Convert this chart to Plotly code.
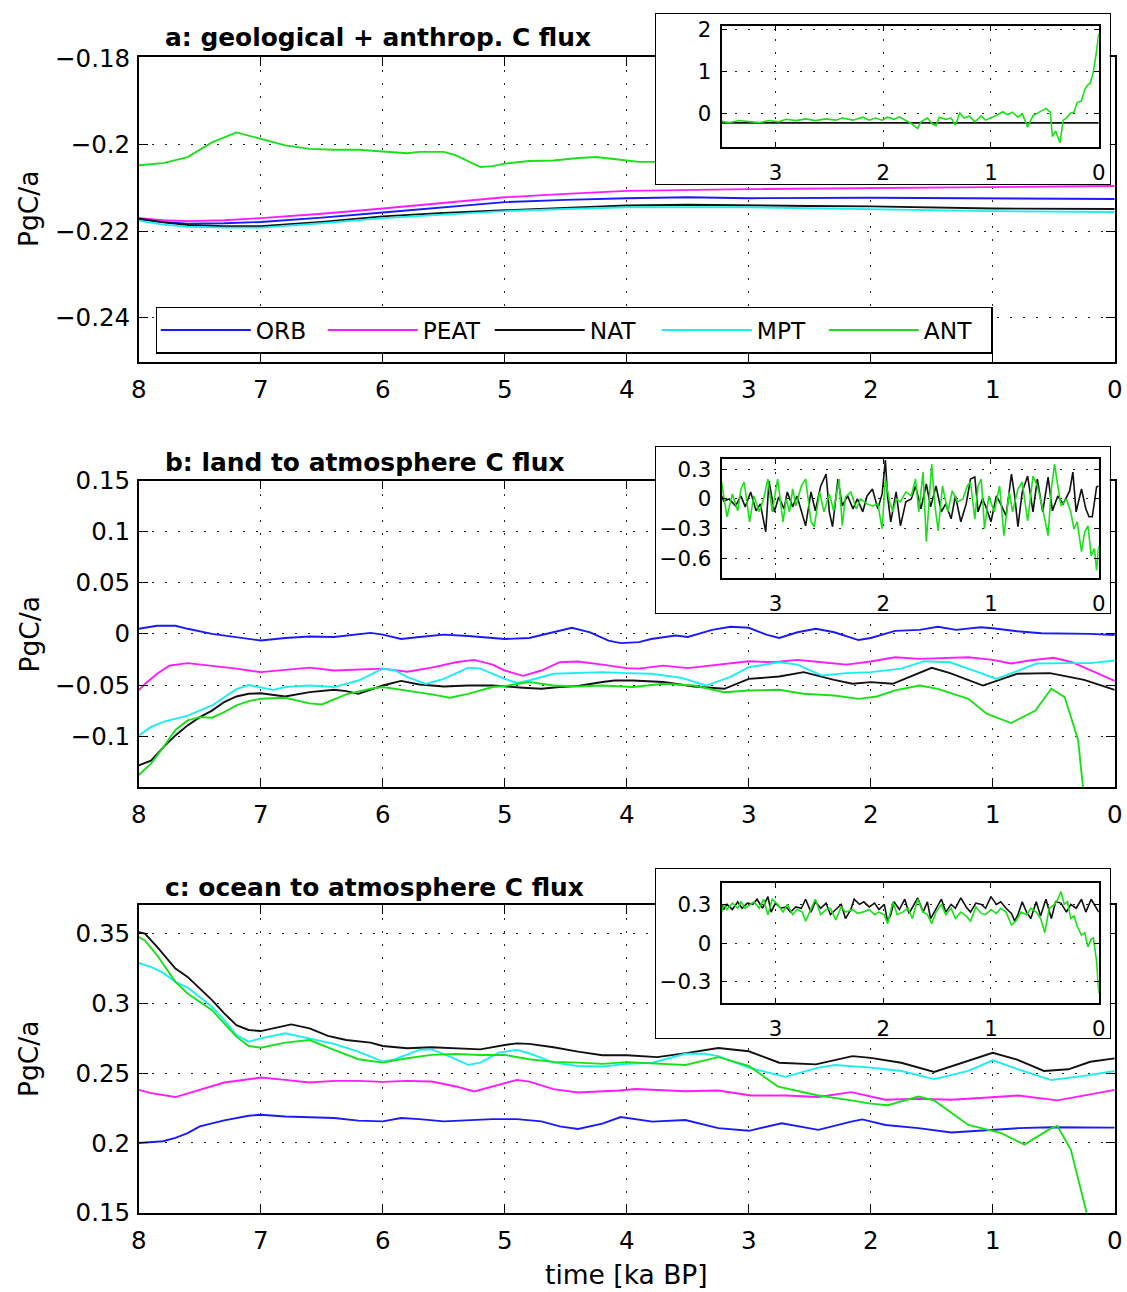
import plotly.graph_objects as go

# ---------------- data ----------------
SERIES = ["ORB", "PEAT", "NAT", "MPT", "ANT"]

# a: geological + anthropogenic C flux (PgC/a), smoothed series of the main panel
GEO_ORB_T = [8.0, 7.8, 7.6, 7.3, 7.0, 6.5, 6.0, 5.5, 5.0, 4.5, 4.0, 3.5, 3.0, 2.0, 1.0, 0.0]
GEO_ORB = [-0.2173, -0.2179, -0.2183, -0.2182, -0.2179, -0.2169, -0.2157, -0.2145, -0.2133, -0.2128,
           -0.2124, -0.2122, -0.2124, -0.2123, -0.2125, -0.2126]
GEO_PEAT_T = [8.0, 7.8, 7.6, 7.3, 7.0, 6.5, 6.0, 5.5, 5.0, 4.5, 4.0, 3.0, 2.0, 1.0, 0.0]
GEO_PEAT = [-0.2170, -0.2175, -0.2177, -0.2175, -0.2170, -0.2160, -0.2148, -0.2135, -0.2122, -0.2114,
            -0.2107, -0.2103, -0.2101, -0.2099, -0.2096]
GEO_NAT_T = [8.0, 7.8, 7.6, 7.3, 7.0, 6.5, 6.0, 5.5, 5.0, 4.5, 4.0, 3.5, 3.0, 2.5, 2.0, 1.5, 1.0, 0.0]
GEO_NAT = [-0.2171, -0.2180, -0.2186, -0.2189, -0.2189, -0.2179, -0.2166, -0.2158, -0.2152, -0.2146,
           -0.2141, -0.2139, -0.2141, -0.2142, -0.2143, -0.2146, -0.2148, -0.2149]
GEO_MPT_T = [8.0, 7.8, 7.6, 7.3, 7.0, 6.5, 6.0, 5.5, 5.0, 4.5, 4.0, 3.0, 2.0, 1.0, 0.0]
GEO_MPT = [-0.2176, -0.2185, -0.2190, -0.2192, -0.2192, -0.2182, -0.2170, -0.2162, -0.2154, -0.2149,
           -0.2145, -0.2145, -0.2150, -0.2154, -0.2156]
GEO_ANT_T = [8.0, 7.8, 7.6, 7.4, 7.2, 7.0, 6.8, 6.6, 6.4, 6.2, 6.0, 5.8, 5.7, 5.5, 5.4, 5.2, 5.1, 5.0,
             4.8, 4.6, 4.4, 4.25, 4.0, 3.9, 3.76, 3.6, 3.5, 3.0, 2.5, 2.0, 1.5, 1.0, 0.7, 0.4, 0.2,
             0.0]
GEO_ANT = [-0.2048, -0.2043, -0.2029, -0.1995, -0.1972, -0.1987, -0.2002, -0.2010, -0.2012, -0.2012,
           -0.2016, -0.2020, -0.2017, -0.2017, -0.2025, -0.2052, -0.2050, -0.2044, -0.2038, -0.2037,
           -0.2031, -0.2029, -0.2037, -0.2040, -0.2040, -0.1990, -0.19, -0.175, -0.15, -0.13,
           -0.15, -0.10, -0.02, -0.10, 0.20, 1.90]

# annual geological + anthrop. flux shown in inset a (ANT)
INSET_GEO_ANT_T = [3.50, 3.43, 3.34, 3.24, 3.15, 3.06, 2.97, 2.90, 2.81, 2.72, 2.63, 2.53, 2.44, 2.38,
                   2.28, 2.19, 2.13, 2.07, 2.01, 1.96, 1.90, 1.85, 1.79, 1.74, 1.68, 1.65, 1.59,
                   1.54, 1.51, 1.48, 1.42, 1.37, 1.33, 1.29, 1.25, 1.20, 1.15, 1.09, 1.05, 1.00,
                   0.95, 0.89, 0.85, 0.80, 0.75, 0.71, 0.66, 0.61, 0.55, 0.49, 0.45, 0.43, 0.40,
                   0.36, 0.33, 0.30, 0.26, 0.23, 0.20, 0.16, 0.13, 0.10, 0.08, 0.05, 0.02, 0.00]
INSET_GEO_ANT = [-0.18, -0.21, -0.16, -0.19, -0.21, -0.16, -0.19, -0.13, -0.16, -0.12, -0.16, -0.12,
                 -0.15, -0.10, -0.15, -0.08, -0.15, -0.10, -0.15, -0.08, -0.13, -0.07, -0.15, -0.23,
                 -0.35, -0.19, -0.10, -0.25, -0.28, -0.08, -0.13, -0.10, -0.27, 0.02, -0.10, -0.05,
                 -0.19, -0.05, -0.15, -0.10, -0.04, 0.05, -0.02, 0.04, -0.08, 0.0, -0.31, -0.04,
                 0.04, 0.13, 0.04, -0.54, -0.41, -0.69, -0.15, -0.10, 0.02, 0.04, 0.27, 0.31, 0.58,
                 0.69, 0.73, 1.0, 1.5, 1.92]

# b: land to atmosphere C flux (PgC/a)
LAND_ORB_T = [8.0, 7.85, 7.7, 7.6, 7.4, 7.2, 7.0, 6.8, 6.6, 6.4, 6.2, 6.1, 6.0, 5.85, 5.7, 5.5, 5.3,
              5.1, 5.0, 4.8, 4.6, 4.45, 4.3, 4.15, 4.05, 3.9, 3.8, 3.6, 3.5, 3.3, 3.15, 3.0, 2.85,
              2.75, 2.6, 2.45, 2.3, 2.1, 2.0, 1.8, 1.6, 1.45, 1.3, 1.1, 1.0, 0.8, 0.6, 0.4, 0.2, 0.0]
LAND_ORB = [0.005, 0.008, 0.008, 0.005, 0.0, -0.003, -0.0065, -0.004, -0.0026, -0.003, 0.0, 0.001,
            -0.0007, -0.005, -0.003, -0.0007, -0.002, -0.004, -0.005, -0.004, 0.0016, 0.006, 0.0016,
            -0.0065, -0.009, -0.008, -0.005, -0.0016, -0.003, 0.004, 0.007, 0.006, -0.001, -0.004,
            0.0016, 0.005, 0.0016, -0.006, -0.004, 0.003, 0.004, 0.007, 0.004, 0.0065, 0.0055, 0.0026,
            0.0007, 0.0007, 0.0, -0.001]
LAND_PEAT_T = [8.0, 7.95, 7.85, 7.75, 7.6, 7.4, 7.2, 7.0, 6.8, 6.6, 6.4, 6.2, 6.0, 5.8, 5.6, 5.4, 5.25,
               5.1, 5.0, 4.85, 4.7, 4.55, 4.4, 4.2, 4.0, 3.9, 3.7, 3.5, 3.3, 3.0, 2.8, 2.6, 2.4, 2.2,
               2.0, 1.8, 1.6, 1.4, 1.2, 1.0, 0.85, 0.7, 0.5, 0.35, 0.2, 0.05, 0.0]
LAND_PEAT = [-0.055, -0.049, -0.039, -0.031, -0.0286, -0.031, -0.034, -0.0374, -0.035, -0.033,
             -0.0358, -0.035, -0.034, -0.037, -0.033, -0.0277, -0.0254, -0.03, -0.0358, -0.041,
             -0.0358, -0.0277, -0.027, -0.03, -0.0335, -0.034, -0.031, -0.0335, -0.031, -0.0267,
             -0.0277, -0.0254, -0.0277, -0.03, -0.027, -0.0228, -0.0244, -0.0238, -0.0228, -0.0254,
             -0.029, -0.026, -0.0234, -0.0277, -0.0358, -0.044, -0.046]
LAND_NAT_T = [8.0, 7.9, 7.8, 7.7, 7.6, 7.5, 7.4, 7.3, 7.2, 7.1, 7.0, 6.8, 6.6, 6.4, 6.3, 6.2, 6.0,
              5.85, 5.7, 5.5, 5.3, 5.1, 4.85, 4.7, 4.55, 4.4, 4.2, 4.1, 3.95, 3.7, 3.45, 3.2, 3.0,
              2.75, 2.55, 2.3, 2.15, 2.0, 1.82, 1.6, 1.5, 1.35, 1.08, 0.8, 0.53, 0.25, 0.0]
LAND_NAT = [-0.1286, -0.124, -0.111, -0.0993, -0.0895, -0.0814, -0.075, -0.0667, -0.0612, -0.0586,
            -0.058, -0.0612, -0.057, -0.0547, -0.056, -0.0586, -0.0505, -0.046, -0.0495, -0.0514,
            -0.0505, -0.0505, -0.0527, -0.0537, -0.052, -0.051, -0.047, -0.0456, -0.0456, -0.047,
            -0.0514, -0.0537, -0.044, -0.0417, -0.0374, -0.045, -0.0488, -0.0472, -0.0488, -0.0384,
            -0.0332, -0.0384, -0.0505, -0.039, -0.0384, -0.045, -0.0547]
LAND_MPT_T = [8.0, 7.9, 7.8, 7.6, 7.4, 7.3, 7.2, 7.1, 7.0, 6.9, 6.8, 6.6, 6.4, 6.2, 6.0, 5.9, 5.8,
              5.65, 5.5, 5.3, 5.2, 5.0, 4.9, 4.8, 4.6, 4.4, 4.2, 4.0, 3.8, 3.55, 3.35, 3.15, 3.0,
              2.75, 2.6, 2.4, 2.2, 2.0, 1.75, 1.56, 1.35, 1.08, 0.97, 0.75, 0.64, 0.4, 0.2, 0.0]
LAND_MPT = [-0.0993, -0.091, -0.086, -0.08, -0.07, -0.062, -0.054, -0.05, -0.052, -0.0547, -0.052,
            -0.0505, -0.052, -0.0456, -0.034, -0.0358, -0.042, -0.049, -0.044, -0.033, -0.034,
            -0.044, -0.048, -0.0456, -0.039, -0.038, -0.0374, -0.0384, -0.039, -0.043, -0.0505,
            -0.042, -0.0326, -0.0277, -0.03, -0.0407, -0.0384, -0.0374, -0.034, -0.0267, -0.0277,
            -0.039, -0.044, -0.034, -0.029, -0.0286, -0.0286, -0.026]
LAND_ANT_T = [8.0, 7.9, 7.8, 7.7, 7.6, 7.5, 7.4, 7.3, 7.2, 7.1, 7.0, 6.8, 6.6, 6.5, 6.3, 6.1, 6.0,
              5.8, 5.6, 5.45, 5.3, 5.1, 5.0, 4.8, 4.6, 4.4, 4.2, 3.95, 3.7, 3.45, 3.2, 3.0, 2.75,
              2.55, 2.3, 2.1, 1.95, 1.8, 1.6, 1.45, 1.2, 1.05, 0.85, 0.65, 0.52, 0.41, 0.3, 0.26,
              0.15, 0.0]
LAND_ANT = [-0.138, -0.127, -0.111, -0.094, -0.0846, -0.0814, -0.082, -0.0765, -0.07, -0.0658,
            -0.0635, -0.0625, -0.068, -0.069, -0.0592, -0.0537, -0.052, -0.0553, -0.0592, -0.0625,
            -0.0586, -0.052, -0.051, -0.047, -0.0505, -0.0514, -0.0505, -0.052, -0.0488, -0.0505,
            -0.057, -0.0553, -0.0547, -0.0586, -0.0602, -0.0635, -0.0612, -0.0553, -0.0505, -0.0537,
            -0.0635, -0.078, -0.0872, -0.0749, -0.0537, -0.0618, -0.104, -0.15, -0.3, -0.55]

# annual land flux shown in inset b (NAT and ANT)
INSET_LAND_NAT_T = [3.50, 3.48, 3.43, 3.37, 3.32, 3.28, 3.23, 3.18, 3.14, 3.09, 3.06, 3.01, 2.97,
                    2.92, 2.89, 2.84, 2.80, 2.76, 2.72, 2.67, 2.63, 2.58, 2.53, 2.50, 2.47, 2.42,
                    2.38, 2.33, 2.28, 2.24, 2.19, 2.15, 2.10, 2.05, 2.01, 1.98, 1.96, 1.93, 1.88,
                    1.84, 1.79, 1.74, 1.70, 1.65, 1.60, 1.56, 1.51, 1.46, 1.42, 1.37, 1.33, 1.28,
                    1.23, 1.19, 1.15, 1.12, 1.08, 1.05, 1.00, 0.95, 0.91, 0.86, 0.81, 0.78, 0.75,
                    0.71, 0.66, 0.61, 0.57, 0.52, 0.47, 0.43, 0.38, 0.33, 0.27, 0.24, 0.21, 0.16,
                    0.12, 0.09, 0.06, 0.02, 0.00]
INSET_LAND_NAT = [0.03, -0.02, 0.0, -0.07, 0.03, -0.08, 0.07, -0.12, -0.05, -0.33, 0.18, -0.13, 0.02,
                  -0.10, 0.07, -0.08, 0.03, -0.13, -0.27, 0.07, -0.12, 0.13, 0.25, -0.13, -0.28,
                  0.20, -0.07, 0.03, -0.10, 0.0, -0.13, 0.03, 0.10, -0.10, 0.05, 0.39, 0.03, -0.23,
                  0.07, -0.27, -0.03, 0.0, 0.13, -0.10, 0.15, -0.08, 0.13, -0.13, -0.05, -0.20, 0.03,
                  -0.23, -0.05, 0.20, 0.22, -0.13, 0.0, -0.07, -0.23, 0.03, -0.05, -0.17, 0.25, 0.03,
                  -0.28, 0.07, 0.23, -0.13, 0.20, -0.13, 0.22, -0.12, 0.03, -0.05, 0.08, 0.27, -0.13,
                  0.10, -0.10, -0.18, -0.18, 0.12, 0.13]
INSET_LAND_ANT_T = [3.50, 3.48, 3.45, 3.40, 3.35, 3.32, 3.29, 3.24, 3.20, 3.15, 3.11, 3.07, 3.03,
                    2.98, 2.93, 2.90, 2.87, 2.84, 2.81, 2.76, 2.72, 2.67, 2.64, 2.59, 2.55, 2.50,
                    2.46, 2.41, 2.38, 2.35, 2.30, 2.25, 2.21, 2.15, 2.10, 2.05, 2.01, 1.98, 1.94,
                    1.91, 1.88, 1.84, 1.79, 1.74, 1.70, 1.67, 1.63, 1.60, 1.57, 1.55, 1.52, 1.49,
                    1.45, 1.40, 1.36, 1.31, 1.26, 1.22, 1.19, 1.15, 1.12, 1.09, 1.06, 1.02, 0.97,
                    0.92, 0.88, 0.83, 0.80, 0.75, 0.71, 0.66, 0.61, 0.57, 0.52, 0.47, 0.44, 0.41,
                    0.38, 0.35, 0.30, 0.26, 0.23, 0.20, 0.16, 0.13, 0.10, 0.07, 0.04, 0.02, 0.00]
INSET_LAND_ANT = [0.17, 0.03, -0.18, 0.05, -0.12, 0.10, 0.17, -0.23, 0.03, -0.13, 0.0, 0.20, -0.13,
                  0.20, -0.23, 0.0, -0.13, 0.10, -0.07, 0.13, 0.20, -0.23, -0.28, 0.07, -0.13, 0.05,
                  -0.12, 0.20, -0.27, 0.02, 0.07, -0.10, 0.0, -0.05, -0.07, -0.05, -0.30, 0.20,
                  -0.03, -0.13, 0.0, -0.03, 0.07, 0.03, 0.20, -0.13, 0.27, -0.43, 0.10, 0.35, -0.07,
                  -0.32, 0.13, -0.13, 0.08, -0.03, 0.0, 0.13, 0.17, -0.20, 0.13, 0.20, -0.30, 0.03,
                  -0.13, 0.13, -0.37, 0.07, -0.13, 0.10, 0.17, -0.22, 0.23, 0.13, -0.10, -0.37, 0.10,
                  0.35, 0.13, -0.07, 0.0, -0.13, -0.30, -0.23, -0.53, -0.33, -0.27, -0.57, -0.50,
                  -0.72, -0.47]

# c: ocean to atmosphere C flux (PgC/a)
OCN_ORB_T = [8.0, 7.8, 7.7, 7.6, 7.5, 7.3, 7.1, 7.0, 6.8, 6.6, 6.4, 6.2, 6.0, 5.85, 5.7, 5.5, 5.3,
             5.1, 4.9, 4.7, 4.55, 4.4, 4.2, 4.05, 3.79, 3.52, 3.25, 3.0, 2.73, 2.43, 2.16, 2.07, 1.88,
             1.61, 1.34, 1.07, 0.79, 0.52, 0.0]
OCN_ORB = [0.2, 0.2012, 0.2036, 0.2071, 0.2119, 0.2162, 0.2195, 0.2202, 0.219, 0.2183, 0.2179, 0.216,
           0.2155, 0.2179, 0.2171, 0.2155, 0.2162, 0.2171, 0.2171, 0.2155, 0.2119, 0.21, 0.2138,
           0.2186, 0.2153, 0.2164, 0.2106, 0.2087, 0.2141, 0.2094, 0.2153, 0.2169, 0.2129, 0.2106,
           0.2075, 0.2089, 0.2106, 0.2113, 0.211]
OCN_PEAT_T = [8.0, 7.9, 7.7, 7.5, 7.3, 7.1, 7.0, 6.8, 6.6, 6.4, 6.2, 6.0, 5.8, 5.6, 5.4, 5.25, 5.1,
              4.9, 4.8, 4.6, 4.4, 4.2, 4.06, 3.93, 3.52, 3.25, 2.98, 2.7, 2.43, 2.16, 1.88, 1.61,
              1.34, 1.07, 0.79, 0.47, 0.25, 0.0]
OCN_PEAT = [0.2381, 0.2357, 0.2329, 0.2381, 0.2433, 0.2457, 0.2469, 0.2452, 0.2433, 0.2445, 0.2445,
            0.2438, 0.2445, 0.244, 0.2405, 0.2369, 0.2405, 0.2452, 0.244, 0.2386, 0.2362, 0.2369,
            0.2376, 0.2387, 0.2371, 0.2376, 0.234, 0.234, 0.2329, 0.2364, 0.231, 0.2317, 0.231,
            0.2324, 0.234, 0.2305, 0.234, 0.238]
OCN_NAT_T = [8.0, 7.95, 7.85, 7.7, 7.6, 7.5, 7.4, 7.3, 7.2, 7.1, 7.0, 6.9, 6.75, 6.6, 6.45, 6.3, 6.1,
             6.0, 5.8, 5.6, 5.4, 5.2, 5.0, 4.9, 4.8, 4.6, 4.4, 4.2, 4.0, 3.75, 3.5, 3.25, 3.0, 2.75,
             2.45, 2.15, 2.0, 1.75, 1.48, 1.2, 1.0, 0.8, 0.58, 0.38, 0.2, 0.0]
OCN_NAT = [0.351, 0.35, 0.3405, 0.325, 0.319, 0.3107, 0.3024, 0.2929, 0.2845, 0.281, 0.2802, 0.2821,
           0.285, 0.2821, 0.2767, 0.2738, 0.2719, 0.2695, 0.2679, 0.2686, 0.2679, 0.2671, 0.2702,
           0.2714, 0.271, 0.2686, 0.2655, 0.2629, 0.2629, 0.2615, 0.2646, 0.2681, 0.2657, 0.2575,
           0.2563, 0.2622, 0.261, 0.2575, 0.2509, 0.2587, 0.2646, 0.2598, 0.2516, 0.2528, 0.2582,
           0.2606]
OCN_MPT_T = [8.0, 7.9, 7.8, 7.7, 7.6, 7.5, 7.4, 7.3, 7.2, 7.1, 7.0, 6.8, 6.6, 6.4, 6.2, 6.0, 5.9,
             5.7, 5.6, 5.45, 5.3, 5.2, 5.05, 4.9, 4.8, 4.6, 4.4, 4.2, 4.0, 3.79, 3.52, 3.36, 3.25,
             3.0, 2.7, 2.43, 2.29, 2.0, 1.75, 1.48, 1.2, 1.0, 0.79, 0.52, 0.25, 0.0]
OCN_MPT = [0.329, 0.3262, 0.3219, 0.3155, 0.3114, 0.3048, 0.2976, 0.2881, 0.2774, 0.2726, 0.275,
           0.2786, 0.275, 0.271, 0.2655, 0.2583, 0.26, 0.2667, 0.2671, 0.2619, 0.256, 0.2576, 0.2648,
           0.2667, 0.2643, 0.2576, 0.2552, 0.2548, 0.2567, 0.2575, 0.2639, 0.2639, 0.2622, 0.254,
           0.2474, 0.254, 0.2559, 0.254, 0.2516, 0.2458, 0.2516, 0.2592, 0.2528, 0.2451, 0.2481,
           0.2516]
OCN_ANT_T = [8.0, 7.95, 7.85, 7.7, 7.6, 7.5, 7.4, 7.3, 7.2, 7.1, 7.0, 6.8, 6.6, 6.4, 6.2, 6.0, 5.8,
             5.6, 5.4, 5.2, 5.0, 4.8, 4.6, 4.4, 4.2, 4.0, 3.65, 3.52, 3.25, 3.0, 2.76, 2.43, 2.16,
             2.0, 1.86, 1.61, 1.48, 1.2, 0.93, 0.74, 0.52, 0.47, 0.36, 0.23, 0.1, 0.0]
OCN_ANT = [0.3476, 0.3452, 0.3345, 0.3155, 0.3071, 0.3012, 0.2952, 0.2857, 0.2762, 0.2695, 0.2683,
           0.2719, 0.2738, 0.2667, 0.26, 0.2576, 0.2607, 0.2631, 0.2638, 0.2631, 0.2631, 0.26,
           0.2581, 0.2576, 0.2567, 0.2579, 0.2568, 0.2559, 0.2615, 0.2552, 0.2404, 0.234, 0.2305,
           0.2282, 0.227, 0.2333, 0.2305, 0.2129, 0.207, 0.1988, 0.2106, 0.2122, 0.1953, 0.15, 0.08,
           0.02]

# annual ocean flux shown in inset c (NAT and ANT)
INSET_OCN_NAT_T = [3.51, 3.48, 3.45, 3.40, 3.35, 3.31, 3.26, 3.21, 3.17, 3.12, 3.07, 3.04, 3.00,
                   2.95, 2.90, 2.86, 2.81, 2.76, 2.72, 2.67, 2.63, 2.58, 2.53, 2.49, 2.44, 2.39,
                   2.35, 2.30, 2.27, 2.22, 2.18, 2.13, 2.08, 2.04, 1.99, 1.96, 1.93, 1.90, 1.85,
                   1.80, 1.76, 1.71, 1.68, 1.63, 1.59, 1.56, 1.51, 1.46, 1.42, 1.37, 1.33, 1.28,
                   1.23, 1.19, 1.14, 1.09, 1.05, 1.00, 0.95, 0.91, 0.86, 0.81, 0.78, 0.75, 0.71,
                   0.67, 0.63, 0.58, 0.54, 0.49, 0.44, 0.40, 0.35, 0.30, 0.26, 0.21, 0.16, 0.12,
                   0.07, 0.04, 0.00]
INSET_OCN_NAT = [0.31, 0.26, 0.30, 0.26, 0.32, 0.27, 0.31, 0.30, 0.34, 0.27, 0.36, 0.24, 0.31, 0.27,
                 0.28, 0.24, 0.28, 0.27, 0.34, 0.24, 0.32, 0.27, 0.31, 0.22, 0.26, 0.30, 0.19, 0.26,
                 0.34, 0.30, 0.32, 0.28, 0.31, 0.26, 0.30, 0.17, 0.22, 0.32, 0.26, 0.34, 0.23, 0.30,
                 0.35, 0.24, 0.32, 0.19, 0.27, 0.34, 0.24, 0.30, 0.27, 0.35, 0.28, 0.24, 0.31, 0.30,
                 0.27, 0.36, 0.30, 0.32, 0.27, 0.23, 0.17, 0.22, 0.32, 0.24, 0.19, 0.32, 0.21, 0.34,
                 0.19, 0.32, 0.31, 0.24, 0.30, 0.27, 0.34, 0.24, 0.34, 0.30, 0.24]
INSET_OCN_ANT_T = [3.51, 3.48, 3.45, 3.40, 3.35, 3.32, 3.28, 3.23, 3.20, 3.15, 3.11, 3.07, 3.03,
                   2.98, 2.93, 2.89, 2.84, 2.80, 2.75, 2.72, 2.67, 2.63, 2.58, 2.53, 2.49, 2.44,
                   2.39, 2.35, 2.28, 2.24, 2.19, 2.13, 2.08, 2.04, 1.99, 1.96, 1.91, 1.87, 1.82,
                   1.77, 1.73, 1.68, 1.63, 1.59, 1.55, 1.51, 1.46, 1.42, 1.37, 1.33, 1.28, 1.23,
                   1.19, 1.14, 1.09, 1.05, 1.00, 0.95, 0.91, 0.86, 0.81, 0.77, 0.72, 0.67, 0.63,
                   0.58, 0.54, 0.50, 0.46, 0.41, 0.38, 0.35, 0.32, 0.29, 0.26, 0.23, 0.20, 0.16,
                   0.13, 0.10, 0.07, 0.05, 0.02, 0.00]
INSET_OCN_ANT = [0.21, 0.30, 0.26, 0.31, 0.27, 0.32, 0.27, 0.30, 0.32, 0.27, 0.34, 0.22, 0.34, 0.30,
                 0.24, 0.30, 0.22, 0.26, 0.24, 0.17, 0.27, 0.34, 0.22, 0.26, 0.27, 0.18, 0.28, 0.24,
                 0.26, 0.23, 0.24, 0.26, 0.22, 0.24, 0.22, 0.15, 0.32, 0.22, 0.24, 0.27, 0.19, 0.34,
                 0.24, 0.22, 0.15, 0.24, 0.30, 0.22, 0.27, 0.19, 0.24, 0.21, 0.17, 0.28, 0.23, 0.22,
                 0.26, 0.23, 0.27, 0.24, 0.14, 0.17, 0.24, 0.22, 0.27, 0.24, 0.19, 0.08, 0.27, 0.30,
                 0.34, 0.40, 0.30, 0.32, 0.19, 0.21, 0.13, 0.06, 0.08, -0.03, 0.03, 0.04, -0.14,
                 -0.39]

# ticks / labels
X_TICKS = [8, 7, 6, 5, 4, 3, 2, 1, 0]
X_TICKTEXT = ["8", "7", "6", "5", "4", "3", "2", "1", "0"]
INSET_X_TICKS = [3, 2, 1, 0]
INSET_X_TICKTEXT = ["3", "2", "1", "0"]
YA_TICKS = [-0.24, -0.22, -0.20, -0.18]
YA_TICKTEXT = ["\u22120.24", "\u22120.22", "\u22120.2", "\u22120.18"]
YB_TICKS = [-0.10, -0.05, 0.0, 0.05, 0.10, 0.15]
YB_TICKTEXT = ["\u22120.1", "\u22120.05", "0", "0.05", "0.1", "0.15"]
YC_TICKS = [0.15, 0.20, 0.25, 0.30, 0.35]
YC_TICKTEXT = ["0.15", "0.2", "0.25", "0.3", "0.35"]
INSET_A_TICKS = [0, 1, 2]
INSET_A_TICKTEXT = ["0", "1", "2"]
INSET_B_TICKS = [-0.6, -0.3, 0.0, 0.3]
INSET_B_TICKTEXT = ["\u22120.6", "\u22120.3", "0", "0.3"]
INSET_C_TICKS = [-0.3, 0.0, 0.3]
INSET_C_TICKTEXT = ["\u22120.3", "0", "0.3"]

TITLES = ["a: geological + anthrop. C flux", "b: land to atmosphere C flux",
          "c: ocean to atmosphere C flux"]
Y_LABEL = "PgC/a"
X_LABEL = "time [ka BP]"

# ---------------- styling / placement ----------------
# measured page -> picture mapping of the viewer: x' = SX*x, y' = SY*y + DY,
# with the default 8px body margin in front of the figure.
SX, SY, DY = 0.988, 0.979, 5.0
OFF = 8
W, H = 1133, 1307
FONT = "DejaVu Sans"
COLORS = {"ORB": "#1a1aff", "PEAT": "#ff1aff", "NAT": "#111111", "MPT": "#1aeef0", "ANT": "#1ae01a"}
LW = 1.9
FS_TICK, FS_TITLE, FS_LABEL, FS_LEG, FS_INSET = 24.5, 24.9, 26.5, 23.3, 21.3


def clamp(v):
    return max(0.0, min(1.0, v))


def fx(p):
    return clamp((p / SX - OFF) / W)


def fy(p):
    return clamp(1 - ((p - DY) / SY - OFF) / H)


fig = go.Figure()

main_data = {
    1: {"ORB": (GEO_ORB_T, GEO_ORB), "PEAT": (GEO_PEAT_T, GEO_PEAT), "NAT": (GEO_NAT_T, GEO_NAT),
        "MPT": (GEO_MPT_T, GEO_MPT), "ANT": (GEO_ANT_T, GEO_ANT)},
    2: {"ORB": (LAND_ORB_T, LAND_ORB), "PEAT": (LAND_PEAT_T, LAND_PEAT), "NAT": (LAND_NAT_T, LAND_NAT),
        "MPT": (LAND_MPT_T, LAND_MPT), "ANT": (LAND_ANT_T, LAND_ANT)},
    3: {"ORB": (OCN_ORB_T, OCN_ORB), "PEAT": (OCN_PEAT_T, OCN_PEAT), "NAT": (OCN_NAT_T, OCN_NAT),
        "MPT": (OCN_MPT_T, OCN_MPT), "ANT": (OCN_ANT_T, OCN_ANT)},
}


def ax_id(n):
    return ("x" if n == 1 else f"x{n}"), ("y" if n == 1 else f"y{n}")


for panel in (1, 2, 3):
    xa, ya = ax_id(panel)
    for name in SERIES:
        t, v = main_data[panel][name]
        fig.add_trace(go.Scatter(x=t, y=v, mode="lines", name=name, legendgroup=name,
                                 showlegend=(panel == 1), line=dict(color=COLORS[name], width=LW),
                                 xaxis=xa, yaxis=ya, hoverinfo="skip"))

inset_data = {
    5: [("NAT", GEO_NAT_T, GEO_NAT), ("ANT", INSET_GEO_ANT_T, INSET_GEO_ANT)],
    7: [("NAT", INSET_LAND_NAT_T, INSET_LAND_NAT), ("ANT", INSET_LAND_ANT_T, INSET_LAND_ANT)],
    9: [("NAT", INSET_OCN_NAT_T, INSET_OCN_NAT), ("ANT", INSET_OCN_ANT_T, INSET_OCN_ANT)],
}
for cover, inset in ((4, 5), (6, 7), (8, 9)):
    xa, ya = ax_id(cover)
    fig.add_trace(go.Scatter(x=[], y=[], mode="lines", showlegend=False, xaxis=xa, yaxis=ya,
                             hoverinfo="skip"))
    xa, ya = ax_id(inset)
    for name, t, v in inset_data[inset]:
        fig.add_trace(go.Scatter(x=t, y=v, mode="lines", showlegend=False,
                                 line=dict(color=COLORS[name], width=1.6),
                                 xaxis=xa, yaxis=ya, hoverinfo="skip"))

GRID = dict(showgrid=True, gridcolor="#222222", gridwidth=1, griddash="2px,11px", zeroline=False)
main_x_dom = [fx(139), fx(1117)]
main_y_doms = {1: [fy(361), fy(56)], 2: [fy(787), fy(480)], 3: [fy(1213), fy(905)]}
main_y_cfg = {1: ([-0.2502, -0.1798], YA_TICKS, YA_TICKTEXT),
              2: ([-0.15, 0.15], YB_TICKS, YB_TICKTEXT),
              3: ([0.15, 0.3705], YC_TICKS, YC_TICKTEXT)}

layout_axes = {}
for panel in (1, 2, 3):
    xk = "xaxis" if panel == 1 else f"xaxis{panel}"
    yk = "yaxis" if panel == 1 else f"yaxis{panel}"
    xa, ya = ax_id(panel)
    yr, yt, ytt = main_y_cfg[panel]
    layout_axes[xk] = dict(domain=main_x_dom, range=[8, 0], anchor=ya, tickmode="array",
                           tickvals=X_TICKS, ticktext=X_TICKTEXT, ticks="inside", ticklen=9,
                           tickwidth=1.3, tickcolor="black", showline=True, linecolor="black",
                           linewidth=1.5, mirror="ticks", ticklabelstandoff=5,
                           tickfont=dict(family=FONT, size=FS_TICK, color="black"), **GRID)
    layout_axes[yk] = dict(domain=main_y_doms[panel], range=yr, anchor=xa, tickmode="array",
                           tickvals=yt, ticktext=ytt, ticks="inside", ticklen=9, tickwidth=1.3,
                           tickcolor="black", showline=True, linecolor="black", linewidth=1.5,
                           mirror="ticks", ticklabelstandoff=2,
                           tickfont=dict(family=FONT, size=FS_TICK, color="black"), **GRID)

cover_y = {4: [fy(183), fy(11)], 6: [fy(613), fy(446)], 8: [fy(1038), fy(869)]}
inset_y = {5: ([fy(146), fy(25)], [-0.79, 2.09], INSET_A_TICKS, INSET_A_TICKTEXT),
           7: ([fy(578), fy(458)], [-0.8, 0.405], INSET_B_TICKS, INSET_B_TICKTEXT),
           9: ([fy(1003), fy(883)], [-0.465, 0.465], INSET_C_TICKS, INSET_C_TICKTEXT)}

for n in (4, 6, 8):
    xa, ya = ax_id(n)
    plain = dict(range=[0, 1], showline=True, linecolor="black", linewidth=1.2, mirror=True,
                 showticklabels=False, ticks="", showgrid=False, zeroline=False, fixedrange=True)
    layout_axes[f"xaxis{n}"] = dict(domain=[fx(657), fx(1112)], anchor=ya, **plain)
    layout_axes[f"yaxis{n}"] = dict(domain=cover_y[n], anchor=xa, **plain)

for n in (5, 7, 9):
    xa, ya = ax_id(n)
    ydom, yr, yt, ytt = inset_y[n]
    layout_axes[f"xaxis{n}"] = dict(domain=[fx(723), fx(1101)], range=[3.5, 0], anchor=ya,
                                    tickmode="array", tickvals=INSET_X_TICKS,
                                    ticktext=INSET_X_TICKTEXT, ticks="inside", ticklen=5,
                                    tickcolor="black", showline=True, linecolor="black",
                                    linewidth=2, mirror="ticks", ticklabelstandoff=5,
                                    tickfont=dict(family=FONT, size=FS_INSET, color="black"), **GRID)
    layout_axes[f"yaxis{n}"] = dict(domain=ydom, range=yr, anchor=xa, tickmode="array",
                                    tickvals=yt, ticktext=ytt, ticks="inside", ticklen=5,
                                    tickcolor="black", showline=True, linecolor="black",
                                    linewidth=2, mirror="ticks", ticklabelstandoff=4,
                                    tickfont=dict(family=FONT, size=FS_INSET, color="black"), **GRID)

annotations = []
for title, ty in zip(TITLES, (36, 462, 887)):
    annotations.append(dict(text=f"<b>{title}</b>", x=fx(163), y=fy(ty), xref="paper",
                            yref="paper", xanchor="left", yanchor="middle", showarrow=False,
                            font=dict(family=FONT, size=FS_TITLE, color="black")))
for cy in (208, 634, 1059):
    annotations.append(dict(text=Y_LABEL, x=fx(29), y=fy(cy), xref="paper", yref="paper",
                            xanchor="center", yanchor="middle", textangle=-90, showarrow=False,
                            font=dict(family=FONT, size=FS_LABEL, color="black")))
annotations.append(dict(text=X_LABEL, x=fx(628), y=fy(1275), xref="paper", yref="paper",
                        xanchor="center", yanchor="middle", showarrow=False,
                        font=dict(family=FONT, size=FS_LABEL, color="black")))

fig.update_layout(
    width=W, height=H, autosize=False,
    margin=dict(l=0, r=0, t=0, b=0, pad=0),
    paper_bgcolor="white", plot_bgcolor="white",
    font=dict(family=FONT, color="black"),
    showlegend=True,
    legend=dict(orientation="h", x=fx(156), y=fy(306), xanchor="left", yanchor="top",
                bgcolor="white", bordercolor="black", borderwidth=1.5,
                font=dict(family=FONT, size=FS_LEG, color="black"),
                itemwidth=90, entrywidth=62, entrywidthmode="pixels", tracegroupgap=0),
    annotations=annotations,
    **layout_axes,
)

fig.write_html("out.html")
